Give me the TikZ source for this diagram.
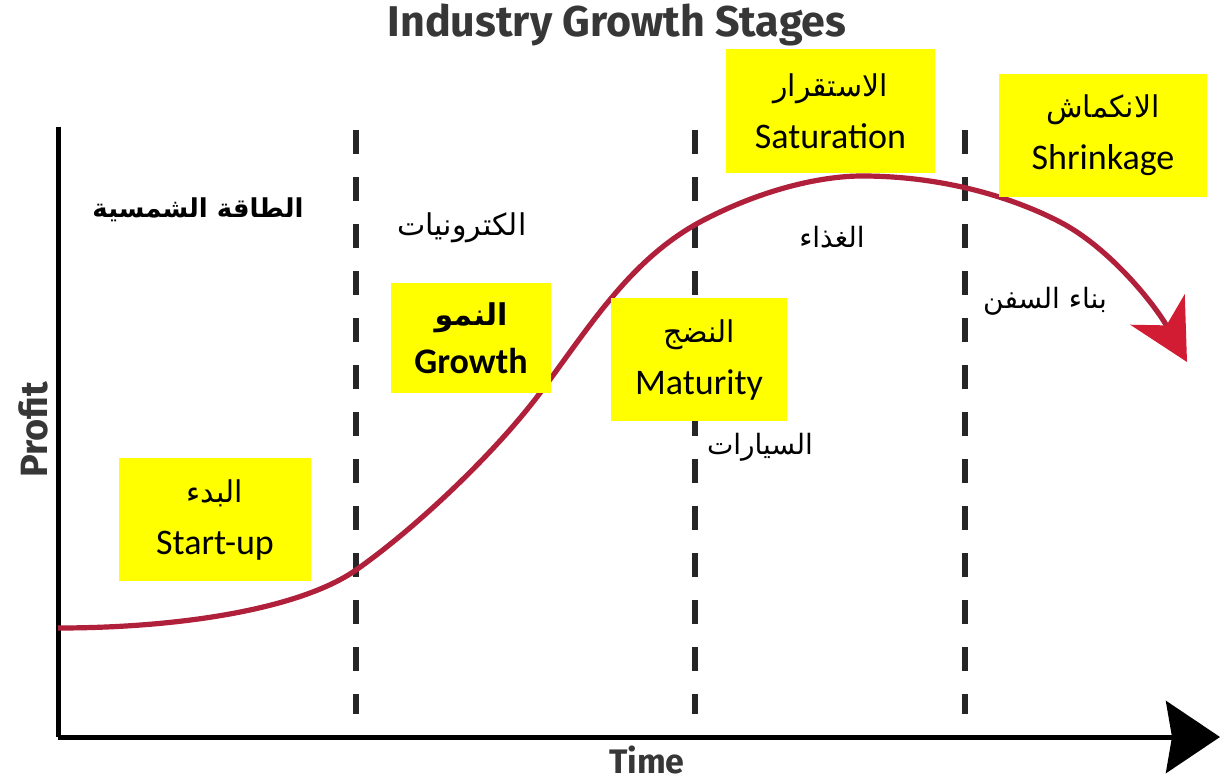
\documentclass[tikz,border=0pt]{standalone}
\usepackage{fontspec}
\setmainfont{Carlito}
\newfontfamily\arabicfont[Script=Arabic]{DejaVu Sans}
\newfontfamily\titlefont{Fira Sans}
\TeXXeTstate=1
\usetikzlibrary{arrows.meta}
\definecolor{stageyellow}{RGB}{255,255,0}
\definecolor{curvered}{RGB}{176,32,58}
\definecolor{tipred}{RGB}{210,28,52}
\definecolor{titlegray}{RGB}{55,55,55}
\tikzset{
  stagebox/.style={fill=stageyellow, inner sep=0pt, align=center,
    font=\fontsize{18}{26}\selectfont},
  axisline/.style={line width=2.5pt, black},
  divider/.style={line width=3.2pt, black!85, dash pattern=on 12pt off 11.5pt},
  growthcurve/.style={line width=2.6pt, curvered,
    -{Stealth[length=30pt, width=31pt, inset=9pt, color=tipred]}},
  industry/.style={font=\arabicfont\fontsize{14}{16}\selectfont},
  axislabel/.style={font=\titlefont\bfseries\fontsize{19}{22}\selectfont, titlegray}
}
\begin{document}
\begin{tikzpicture}[x=0.5pt, y=-0.5pt]
  \useasboundingbox[fill=white] (0,0) rectangle (1220,781);

  % axes
  \coordinate (origin) at (58,737);
  \coordinate (ytop) at (58,127);
  \coordinate (xend) at (1220,737);
  \draw[axisline] (ytop) -- (origin);
  \draw[axisline, -{Stealth[length=27pt, width=36pt, inset=3pt]}] (origin) -- (xend);

  % stage dividers
  \foreach \name/\x in {da/356, db/695, dc/965} {
    \coordinate (\name top) at (\x,130);
    \coordinate (\name bot) at (\x,714);
    \draw[divider] (\name top) -- (\name bot);
  }

  % profit curve: slow start, steep growth, plateau, decline
  \draw[growthcurve] (58,628)
    .. controls (180,628) and (300,609) .. (356,570)
    .. controls (416,528) and (495,453) .. (540,393)
    .. controls (590,326) and (630,260) .. (700,222)
    .. controls (760,190) and (820,176) .. (862,176)
    .. controls (940,176) and (1010,196) .. (1060,222)
    .. controls (1110,248) and (1155,305) .. (1187,362);

  % title and axis labels
  \node[axislabel, font=\titlefont\bfseries\fontsize{21.5}{24}\selectfont] (title) at (617,25) {Industry Growth Stages};
  \node[axislabel, rotate=90] (profit) at (33,430) {Profit};
  \node[axislabel, font=\titlefont\bfseries\fontsize{17}{20}\selectfont] (time) at (647,760) {Time};

  % stage boxes
  \node[stagebox, minimum width=96pt, minimum height=61.5pt] (startup) at (215,519.5)
    {{\arabicfont\fontsize{15}{18}\selectfont\beginR البدء\endR}\\Start-up};
  \node[stagebox, minimum width=80pt, minimum height=55pt, font=\bfseries\fontsize{18}{24}\selectfont] (growth) at (471,338)
    {{\arabicfont\bfseries\fontsize{15}{18}\selectfont\beginR النمو\endR}\\Growth};
  \node[stagebox, minimum width=88pt, minimum height=61.5pt] (maturity) at (699,359.5)
    {{\arabicfont\fontsize{15}{18}\selectfont\beginR النضج\endR}\\Maturity};
  \node[stagebox, minimum width=104.5pt, minimum height=62pt] (saturation) at (830.5,111)
    {{\arabicfont\fontsize{15}{18}\selectfont\beginR الاستقرار\endR}\\Saturation};
  \node[stagebox, minimum width=104pt, minimum height=61.5pt] (shrinkage) at (1103,135.5)
    {{\arabicfont\fontsize{15}{18}\selectfont\beginR الانكماش\endR}\\Shrinkage};

  % example industries
  \node[industry, font=\arabicfont\bfseries\fontsize{13}{16}\selectfont] (solar) at (198,210) {\beginR الطاقة الشمسية\endR};
  \node[industry, font=\arabicfont\fontsize{15}{17}\selectfont] (electronics) at (462,228) {\beginR الكترونيات\endR};
  \node[industry] (cars) at (760,447) {\beginR السيارات\endR};
  \node[industry] (food) at (832,237) {\beginR الغذاء\endR};
  \node[industry] (ships) at (1045,301) {\beginR بناء السفن\endR};
\end{tikzpicture}
\end{document}
